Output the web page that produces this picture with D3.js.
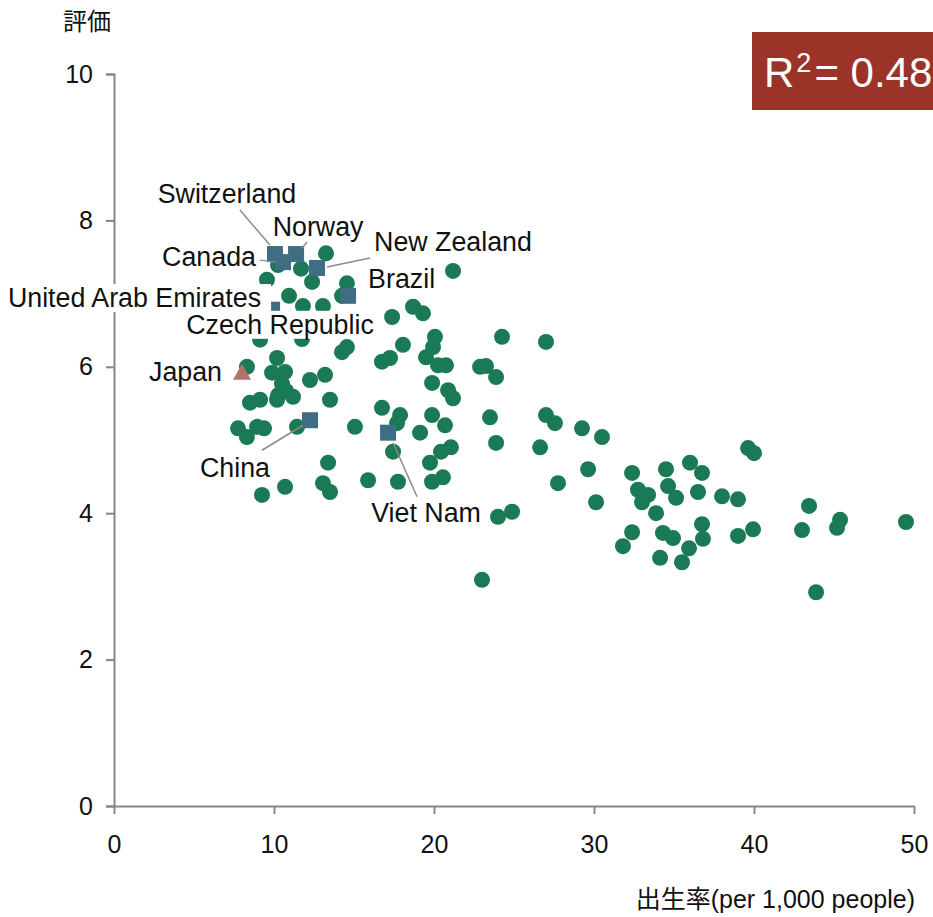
<!DOCTYPE html>
<html>
<head>
<meta charset="utf-8">
<script src="https://cdn.jsdelivr.net/npm/d3@7"></script>
<style>
  html, body { margin: 0; padding: 0; background: #fff; }
  svg { display: block; }
  text { font-family: "Liberation Sans", Arial, "Noto Sans CJK JP", sans-serif; fill: #111; }
</style>
</head>
<body>
<svg id="chart" width="933" height="917"></svg>
<script>
// Birth rate (per 1,000 people) and rating for every country
const birthRate = [
  13.25, 10.25, 11.69, 12.38, 9.56, 14.56, 14.25, 10.94, 21.19, 18.69,
  19.31, 17.38, 11.81, 13.06, 9.13, 11.75, 14.25, 14.56, 18.06, 20.06,
  19.94, 19.5, 20.25, 20.75, 16.75, 17.25, 10.19, 8.31, 9.88, 10.69,
  10.5, 12.25, 13.19, 10.25, 10.75, 11.19, 8.5, 9.13, 10.19, 13.5,
  7.75, 8.31, 8.94, 9.38, 11.44, 15.06, 16.75, 17.88, 17.69, 19.13,
  19.88, 20.69, 17.44, 21.06, 20.44, 19.75, 20.56, 19.88, 13.38, 15.88,
  17.75, 13.06, 13.5, 10.69, 9.25, 19.88, 20.88, 21.19, 22.88, 23.25,
  23.88, 24.25, 27.0, 23.5, 23.88, 27.0, 27.56, 26.63, 29.25, 30.5,
  29.63, 27.75, 30.13, 24.88, 24.0, 23.0, 32.38, 34.5, 36.0, 36.75,
  32.75, 33.38, 33.0, 34.63, 35.13, 36.5, 38.0, 39.0, 33.88, 39.63,
  40.0, 43.44, 32.38, 31.81, 34.31, 34.94, 36.75, 36.81, 35.94, 39.0,
  39.94, 43.0, 45.38, 45.19, 49.5, 34.13, 35.5, 43.88
];
const rating = [
  7.55, 7.39, 7.34, 7.16, 7.19, 7.14, 6.97, 6.97, 7.31, 6.82,
  6.73, 6.68, 6.83, 6.83, 6.37, 6.38, 6.20, 6.27, 6.30, 6.41,
  6.27, 6.13, 6.02, 6.02, 6.07, 6.12, 6.12, 6.0, 5.92, 5.93,
  5.77, 5.82, 5.89, 5.61, 5.67, 5.59, 5.51, 5.55, 5.55, 5.55,
  5.16, 5.04, 5.18, 5.16, 5.18, 5.18, 5.44, 5.34, 5.23, 5.10,
  5.34, 5.20, 4.84, 4.90, 4.84, 4.69, 4.49, 4.43, 4.69, 4.45,
  4.43, 4.41, 4.29, 4.36, 4.25, 5.78, 5.68, 5.57, 6.0, 6.01,
  5.86, 6.41, 6.34, 5.31, 4.96, 5.34, 5.23, 4.90, 5.16, 5.04,
  4.60, 4.41, 4.15, 4.02, 3.95, 3.09, 4.55, 4.60, 4.69, 4.55,
  4.32, 4.25, 4.15, 4.37, 4.21, 4.29, 4.23, 4.19, 4.00, 4.89,
  4.82, 4.10, 3.74, 3.55, 3.73, 3.66, 3.85, 3.65, 3.52, 3.69,
  3.78, 3.77, 3.91, 3.80, 3.88, 3.39, 3.33, 2.92
];

// Highlighted countries
const highlightNames = ["Switzerland", "Norway", "Canada", "New Zealand", "Brazil",
  "United Arab Emirates", "Czech Republic", "China", "Viet Nam"];
const highlightBirthRate = [10.06, 11.38, 10.56, 12.69, 14.63, 9.88, 10.5, 12.25, 17.13];
const highlightRating = [7.54, 7.54, 7.43, 7.35, 6.97, 6.78, 6.62, 5.27, 5.10];

// Japan
const japanName = "Japan";
const japanBirthRate = 8.0;
const japanRating = 5.92;

const xTicks = [0, 10, 20, 30, 40, 50];
const yTicks = [0, 2, 4, 6, 8, 10];
const rSquared = "0.48";

const xTitle = "出生率(per 1,000 people)";
const yTitle = "評価";

// Label placement relative to each marker: offset, anchor, optional leader line
const labelLayout = {
  "Switzerland": { dx: -48, dy: -60, anchor: "middle", leader: [[-35, -44], [-5, -9]] },
  "Norway": { dx: 22, dy: -27, anchor: "middle", leader: [[11, -12], [6, -6]] },
  "Canada": { dx: -27, dy: -6, anchor: "end", leader: [[-23, -2], [-7, 0]] },
  "New Zealand": { dx: 57, dy: -26, anchor: "start", leader: [[53, -10], [10, -1]] },
  "Brazil": { dx: 20, dy: -17, anchor: "start", leader: [[21, -28], [21, -8]] },
  "United Arab Emirates": { dx: -11, dy: -12, anchor: "end", leader: null, padRight: 10 },
  "Czech Republic": { dx: -2, dy: 3, anchor: "middle", leader: null },
  "China": { dx: -75, dy: 47, anchor: "middle", leader: [[-48, 30], [-7, 5]] },
  "Viet Nam": { dx: 38, dy: 80, anchor: "middle", leader: [[29, 64], [5, 10]] },
  "Japan": { dx: -20, dy: -1, anchor: "end", leader: null }
};

const svg = d3.select("#chart");
const x = d3.scaleLinear().domain([0, 50]).range([114, 914]);
const y = d3.scaleLinear().domain([0, 10]).range([806, 74]);

const axisColor = "#858585";
const fontSize = 25;
const labelFontSize = 26.8;

// Axes
const xAxis = svg.append("g")
  .attr("transform", `translate(0,${y(0)})`)
  .call(d3.axisBottom(x).tickValues(xTicks).tickFormat(d3.format("d"))
    .tickSize(8).tickSizeOuter(0).tickPadding(21));
const yAxis = svg.append("g")
  .attr("transform", `translate(${x(0)},0)`)
  .call(d3.axisLeft(y).tickValues(yTicks).tickFormat(d3.format("d"))
    .tickSize(8).tickSizeOuter(8).tickPadding(13));

[xAxis, yAxis].forEach(g => {
  g.select(".domain").attr("stroke", axisColor).attr("stroke-width", 2);
  g.selectAll(".tick line").attr("stroke", axisColor).attr("stroke-width", 2);
  g.selectAll(".tick text")
    .attr("font-size", fontSize)
    .attr("font-family", "Liberation Sans, Arial, sans-serif")
    .attr("fill", "#111");
});

// Axis titles
svg.append("text")
  .attr("x", 63).attr("y", 30)
  .attr("font-size", 24)
  .style("font-family", "'Noto Sans CJK JP', sans-serif")
  .text(yTitle);
svg.append("text")
  .attr("x", 915).attr("y", 908)
  .attr("text-anchor", "end")
  .attr("font-size", fontSize)
  .text(xTitle);

// All countries
const points = birthRate.map((b, i) => ({ b, r: rating[i] }));
svg.append("g").selectAll("circle")
  .data(points).join("circle")
  .attr("cx", d => x(d.b))
  .attr("cy", d => y(d.r))
  .attr("r", 8)
  .attr("fill", "#197a55");

// Highlighted countries as squares
const highlights = highlightNames.map((n, i) => ({ name: n, b: highlightBirthRate[i], r: highlightRating[i] }));
const sq = 16;
svg.append("g").selectAll("rect")
  .data(highlights).join("rect")
  .attr("x", d => x(d.b) - sq / 2)
  .attr("y", d => y(d.r) - sq / 2)
  .attr("width", sq).attr("height", sq)
  .attr("fill", "#3f6d84");

// Japan triangle
const jx = x(japanBirthRate), jy = y(japanRating);
svg.append("path")
  .attr("d", `M${jx},${jy - 9}L${jx + 9},${jy + 7}L${jx - 9},${jy + 7}Z`)
  .attr("fill", "#b8706a");

// Leader lines and labels
const labelled = highlights.concat([{ name: japanName, b: japanBirthRate, r: japanRating }]);
const annot = svg.append("g");
labelled.forEach(d => {
  const L = labelLayout[d.name];
  if (L && L.leader) {
    annot.append("line")
      .attr("x1", x(d.b) + L.leader[0][0]).attr("y1", y(d.r) + L.leader[0][1])
      .attr("x2", x(d.b) + L.leader[1][0]).attr("y2", y(d.r) + L.leader[1][1])
      .attr("stroke", "#8a8a8a").attr("stroke-width", 1.5);
  }
});
labelled.forEach(d => {
  const L = labelLayout[d.name];
  const g = annot.append("g");
  const t = g.append("text")
    .attr("x", x(d.b) + L.dx)
    .attr("y", y(d.r) + L.dy)
    .attr("dy", "0.35em")
    .attr("text-anchor", L.anchor)
    .attr("font-size", labelFontSize)
    .text(d.name);
  const bb = t.node().getBBox();
  const pr = L.padRight || 3;
  g.insert("rect", "text")
    .attr("x", bb.x - 3).attr("y", bb.y + 1)
    .attr("width", bb.width + 3 + pr).attr("height", bb.height - 2)
    .attr("fill", "#fff");
});

// R squared badge
const badge = svg.append("g");
badge.append("rect")
  .attr("x", 752).attr("y", 32)
  .attr("width", 200).attr("height", 78)
  .attr("fill", "#9b3328");
const rt = badge.append("text")
  .attr("x", 764).attr("y", 87)
  .attr("font-size", 42)
  .style("fill", "#fff");
rt.append("tspan").text("R");
rt.append("tspan").attr("font-size", 27).attr("dy", -15).attr("dx", 2).text("2");
rt.append("tspan").attr("dy", 15).attr("dx", 3).text("= " + rSquared);
</script>
</body>
</html>
